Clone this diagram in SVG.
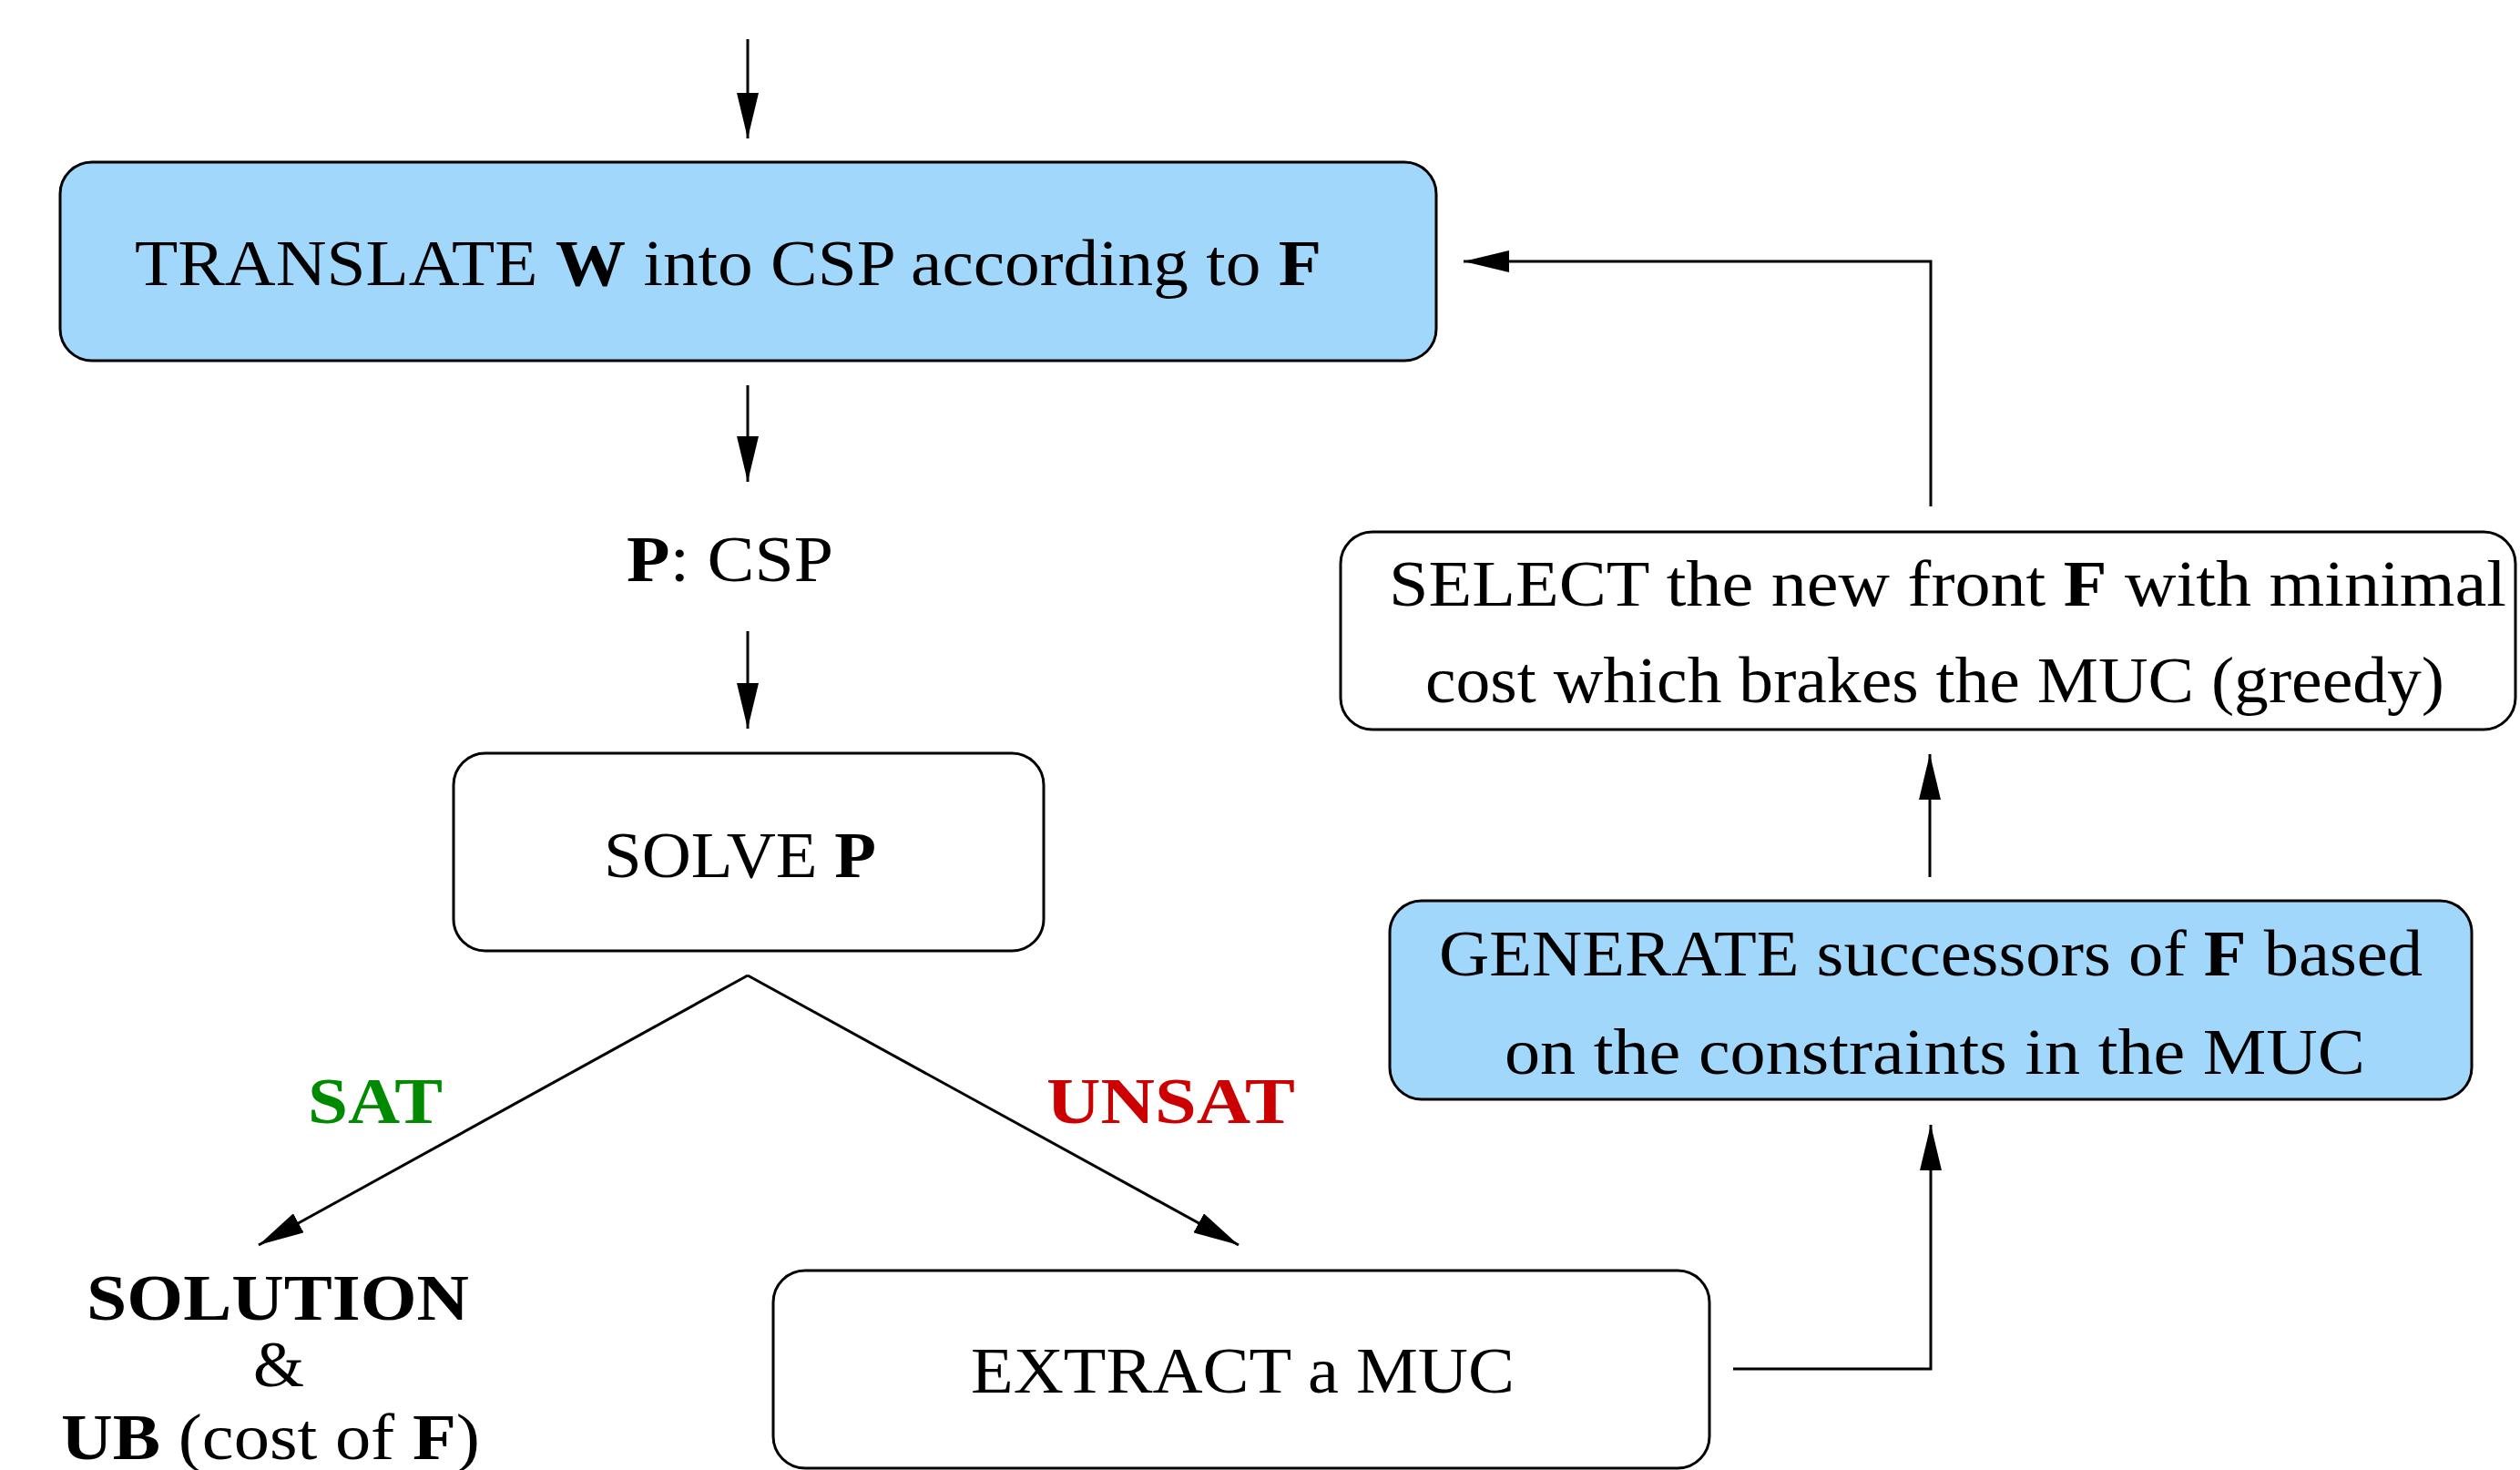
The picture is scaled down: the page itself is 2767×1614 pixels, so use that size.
<svg xmlns="http://www.w3.org/2000/svg" width="2767" height="1614" viewBox="0 0 2767 1614">
<style>
text{font-family:"Liberation Serif","DejaVu Serif",serif;font-size:72px;fill:#000}
.b{font-weight:bold}
.box{stroke:#000;stroke-width:3}
.blue{fill:#A1D7FB}
.white{fill:#fff}
.con{fill:none;stroke:#000;stroke-width:3}
</style>
<defs>
<marker id="ah" viewBox="0 0 50 24" refX="50" refY="12" markerWidth="50" markerHeight="24" markerUnits="userSpaceOnUse" orient="auto">
<path d="M0,0 L50,12 L0,24 z" fill="#000"/>
</marker>
</defs>
<rect width="2767" height="1614" fill="#fff"/>
<g id="connectors">
<path class="con" d="M821,43 L821,152" marker-end="url(#ah)"/>
<path class="con" d="M821,423 L821,529" marker-end="url(#ah)"/>
<path class="con" d="M821,693 L821,800" marker-end="url(#ah)"/>
<path class="con" d="M821,1071 L284,1367" marker-end="url(#ah)"/>
<path class="con" d="M821,1071 L1360,1367" marker-end="url(#ah)"/>
<path class="con" d="M1903,1503 L2120,1503 L2120,1235" marker-end="url(#ah)"/>
<path class="con" d="M2119,963 L2119,828" marker-end="url(#ah)"/>
<path class="con" d="M2120,556 L2120,287 L1607,287" marker-end="url(#ah)"/>
</g>
<g id="translate">
<rect class="box blue" x="66" y="178" width="1511" height="218" rx="35" ry="35"/>
<text x="148" y="313" textLength="1303" lengthAdjust="spacingAndGlyphs">TRANSLATE <tspan class="b">W</tspan> into CSP according to <tspan class="b">F</tspan></text>
</g>
<g id="p-csp">
<text x="688" y="638" textLength="227" lengthAdjust="spacingAndGlyphs"><tspan class="b">P</tspan>: CSP</text>
</g>
<g id="solve">
<rect class="box white" x="498" y="827" width="648" height="217" rx="35" ry="35"/>
<text x="663" y="963" textLength="299" lengthAdjust="spacingAndGlyphs">SOLVE <tspan class="b">P</tspan></text>
</g>
<g id="sat-label">
<text class="b" x="338" y="1233" textLength="148" lengthAdjust="spacingAndGlyphs" style="fill:#008A00">SAT</text>
</g>
<g id="unsat-label">
<text class="b" x="1149" y="1233" textLength="273" lengthAdjust="spacingAndGlyphs" style="fill:#CC0000">UNSAT</text>
</g>
<g id="solution">
<text class="b" x="95" y="1449" textLength="420" lengthAdjust="spacingAndGlyphs">SOLUTION</text>
<text x="306" y="1522" text-anchor="middle">&amp;</text>
<text x="67" y="1602" textLength="460" lengthAdjust="spacingAndGlyphs"><tspan class="b">UB</tspan> (cost of <tspan class="b">F</tspan>)</text>
</g>
<g id="extract">
<rect class="box white" x="849" y="1395" width="1028" height="217" rx="35" ry="35"/>
<text x="1066" y="1529" textLength="597" lengthAdjust="spacingAndGlyphs">EXTRACT a MUC</text>
</g>
<g id="generate">
<rect class="box blue" x="1526" y="989" width="1188" height="218" rx="35" ry="35"/>
<text x="1580" y="1071" textLength="1080" lengthAdjust="spacingAndGlyphs">GENERATE successors of <tspan class="b">F</tspan> based</text>
<text x="1652" y="1179" textLength="945" lengthAdjust="spacingAndGlyphs">on the constraints in the MUC</text>
</g>
<g id="select">
<rect class="box white" x="1472" y="584" width="1290" height="217" rx="35" ry="35"/>
<text x="1525" y="665" textLength="1227" lengthAdjust="spacingAndGlyphs">SELECT the new front <tspan class="b">F</tspan> with minimal</text>
<text x="1565" y="771" textLength="1119" lengthAdjust="spacingAndGlyphs">cost which brakes the MUC (greedy)</text>
</g>
</svg>
